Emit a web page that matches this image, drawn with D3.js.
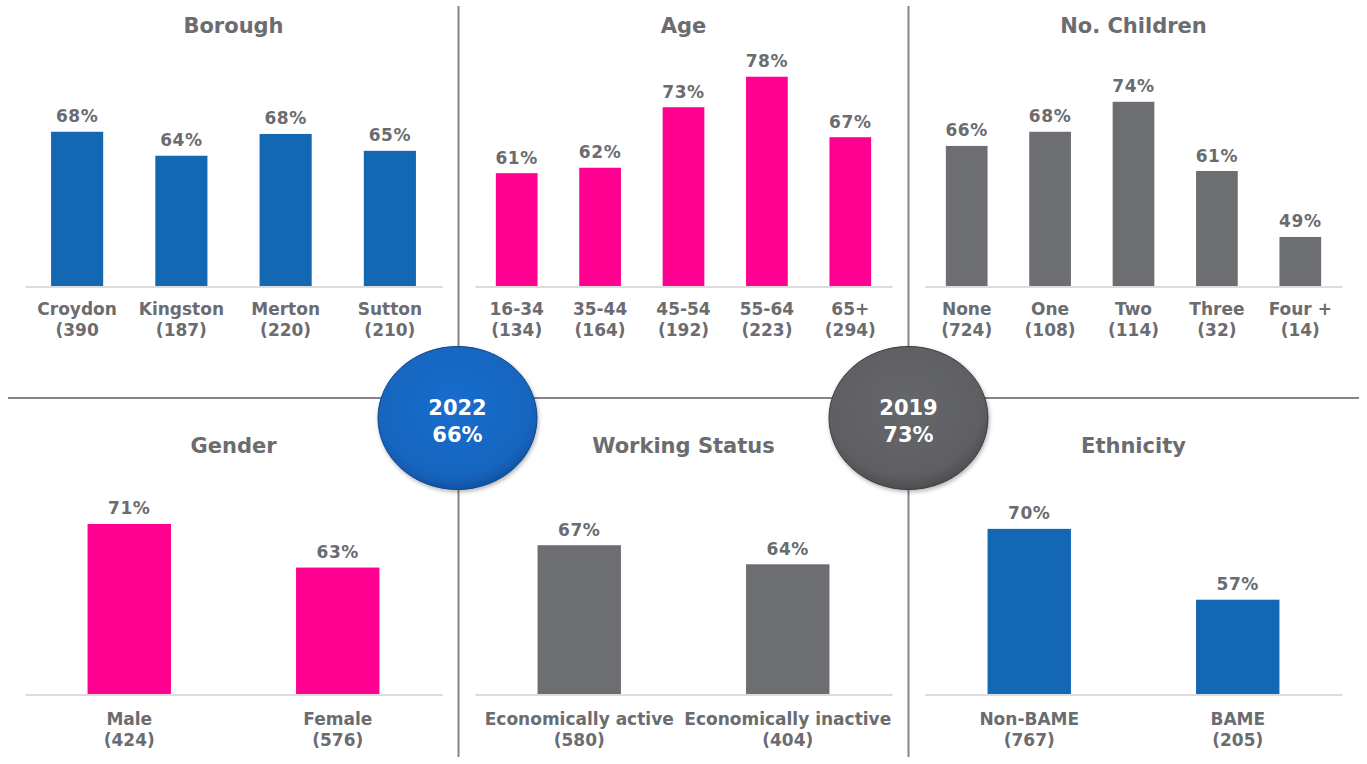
<!DOCTYPE html>
<html>
<head>
<meta charset="utf-8">
<script src="https://cdn.jsdelivr.net/npm/d3@7"></script>
<style>
  html, body { margin: 0; padding: 0; background: #ffffff; }
  svg { display: block; font-family: "DejaVu Sans", Verdana, sans-serif; font-weight: bold; }
</style>
</head>
<body>
<svg id="chart" width="1367" height="764"></svg>
<script>
// ---------- DATA ----------
const boroughCats   = ["Croydon", "Kingston", "Merton", "Sutton"];
const boroughBases  = ["(390", "(187)", "(220)", "(210)"];
const boroughVals   = [68.3, 63.9, 67.9, 64.8];

const ageCats       = ["16-34", "35-44", "45-54", "55-64", "65+"];
const ageBases      = ["(134)", "(164)", "(192)", "(223)", "(294)"];
const ageVals       = [60.7, 61.7, 72.8, 78.4, 67.3];

const childCats     = ["None", "One", "Two", "Three", "Four +"];
const childBases    = ["(724)", "(108)", "(114)", "(32)", "(14)"];
const childVals     = [65.7, 68.3, 73.8, 61.1, 49.0];

const genderCats    = ["Male", "Female"];
const genderBases   = ["(424)", "(576)"];
const genderVals    = [71.2, 63.2];

const workCats      = ["Economically active", "Economically inactive"];
const workBases     = ["(580)", "(404)"];
const workVals      = [67.3, 63.8];

const ethCats       = ["Non-BAME", "BAME"];
const ethBases      = ["(767)", "(205)"];
const ethVals       = [70.3, 57.3];

const panelTitles   = ["Borough", "Age", "No. Children", "Gender", "Working Status", "Ethnicity"];
const yDomain       = [40, 80];

const badgeYears    = ["2022", "2019"];
const badgeValues   = ["66%", "73%"];

// ---------- STYLE ----------
const BLUE = "#1467b3", PINK = "#ff0090", GREY = "#6d6e71";
const TEXT = "#6b6c70";

const svg = d3.select("#chart");
const defs = svg.append("defs");

const panels = [
  {title: panelTitles[0], cats: boroughCats, bases: boroughBases, vals: boroughVals, color: BLUE, x0: 25,  row: 0, pad: 0.5},
  {title: panelTitles[1], cats: ageCats,     bases: ageBases,     vals: ageVals,     color: PINK, x0: 475, row: 0, pad: 0.5},
  {title: panelTitles[2], cats: childCats,   bases: childBases,   vals: childVals,   color: GREY, x0: 925, row: 0, pad: 0.5},
  {title: panelTitles[3], cats: genderCats,  bases: genderBases,  vals: genderVals,  color: PINK, x0: 25,  row: 1, pad: 0.6},
  {title: panelTitles[4], cats: workCats,    bases: workBases,    vals: workVals,    color: GREY, x0: 475, row: 1, pad: 0.6},
  {title: panelTitles[5], cats: ethCats,     bases: ethBases,     vals: ethVals,     color: BLUE, x0: 925, row: 1, pad: 0.6}
];
const rows = [
  {base: 286, top: 68,  titleY: 33,  labY: 315},
  {base: 694, top: 476, titleY: 453, labY: 725}
];
const PW = 417;

// ---------- DIVIDERS ----------
svg.append("line").attr("x1", 8).attr("x2", 1359).attr("y1", 398).attr("y2", 398)
  .attr("stroke", "#858585").attr("stroke-width", 2);
[458.5, 908.5].forEach(x => {
  svg.append("line").attr("x1", x).attr("x2", x).attr("y1", 6).attr("y2", 757)
    .attr("stroke", "#858585").attr("stroke-width", 2);
});

// ---------- PANELS ----------
panels.forEach(p => {
  const r = rows[p.row];
  const g = svg.append("g");
  const x = d3.scaleBand().domain(p.cats).range([p.x0, p.x0 + PW])
    .paddingInner(p.pad).paddingOuter(p.pad / 2);
  const y = d3.scaleLinear().domain(yDomain).range([r.base, r.top]);

  g.append("text").attr("x", p.x0 + PW / 2).attr("y", r.titleY)
    .attr("text-anchor", "middle").attr("font-size", 21).attr("fill", TEXT).text(p.title);

  const data = p.cats.map((c, i) => ({c, v: p.vals[i], b: p.bases[i]}));

  g.selectAll("rect.bar").data(data).join("rect").attr("class", "bar")
    .attr("x", d => x(d.c)).attr("width", x.bandwidth())
    .attr("y", d => y(d.v)).attr("height", d => y(yDomain[0]) - y(d.v))
    .attr("fill", p.color);

  g.selectAll("text.val").data(data).join("text").attr("class", "val")
    .attr("x", d => x(d.c) + x.bandwidth() / 2).attr("y", d => y(d.v) - 9.5)
    .attr("text-anchor", "middle").attr("font-size", 17).attr("letter-spacing", 0.6)
    .attr("fill", TEXT)
    .text(d => Math.round(d.v) + "%");

  const axis = d3.axisBottom(x).tickSize(0).tickFormat("");
  const ag = g.append("g").attr("transform", `translate(0,${r.base + 0.5})`).call(axis);
  ag.select(".domain").attr("stroke", "#dcdcdc").attr("stroke-width", 2);

  const lab = g.selectAll("text.cat").data(data).join("text").attr("class", "cat")
    .attr("text-anchor", "middle").attr("font-size", 17).attr("fill", TEXT);
  lab.append("tspan").attr("x", d => x(d.c) + x.bandwidth() / 2).attr("y", r.labY).text(d => d.c);
  lab.append("tspan").attr("x", d => x(d.c) + x.bandwidth() / 2).attr("y", r.labY + 21).text(d => d.b);
});

// ---------- BADGES ----------
const shadow = defs.append("filter").attr("id", "shadow").attr("x", "-20%").attr("y", "-20%")
  .attr("width", "140%").attr("height", "140%");
shadow.append("feDropShadow").attr("dx", 1).attr("dy", 2).attr("stdDeviation", 2)
  .attr("flood-color", "#000").attr("flood-opacity", 0.3);

const badgeColors = [
  ["#1b6dcc", "#1565c0", "#0f51a0"],
  ["#66676b", "#5e5f63", "#4a4b4e"]
];
badgeColors.forEach((cols, i) => {
  const gr = defs.append("radialGradient").attr("id", "bg" + i)
    .attr("cx", "48%").attr("cy", "42%").attr("r", "60%");
  gr.append("stop").attr("offset", "0%").attr("stop-color", cols[0]);
  gr.append("stop").attr("offset", "80%").attr("stop-color", cols[1]);
  gr.append("stop").attr("offset", "100%").attr("stop-color", cols[2]);
});

const badgeX = [457.5, 908.5];
badgeYears.forEach((yr, i) => {
  const cx = badgeX[i], cy = 418;
  svg.append("ellipse").attr("cx", cx).attr("cy", cy).attr("rx", 79.5).attr("ry", 71.5)
    .attr("fill", `url(#bg${i})`).attr("stroke", i === 0 ? "#0d4487" : "#3c3d3f")
    .attr("stroke-width", 1).attr("filter", "url(#shadow)");
  svg.append("text").attr("x", cx).attr("y", 415).attr("text-anchor", "middle")
    .attr("font-size", 21).attr("fill", "#ffffff").text(yr);
  svg.append("text").attr("x", cx).attr("y", 442).attr("text-anchor", "middle")
    .attr("font-size", 21).attr("fill", "#ffffff").text(badgeValues[i]);
});
</script>
</body>
</html>
